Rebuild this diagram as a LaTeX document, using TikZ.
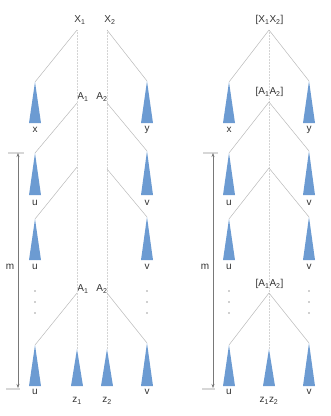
\documentclass[tikz,border=0pt]{standalone}
\usepackage{fontspec}
\setmainfont{Liberation Sans}
\usetikzlibrary{arrows.meta}
\definecolor{triblue}{RGB}{108,155,210}
\definecolor{linegray}{RGB}{185,185,185}
\definecolor{dotgray}{RGB}{212,212,212}
\definecolor{txt}{RGB}{50,50,50}
\definecolor{tickgray}{RGB}{215,215,215}
\definecolor{arrgray}{RGB}{120,120,120}
\tikzset{
  br/.style={draw=linegray, line width=0.5pt},
  vdot/.style={draw=dotgray, densely dotted, line width=0.5pt},
  lab/.style={font=\fontsize{10}{12}\selectfont, text=txt, inner sep=0pt},
  tick/.style={draw=tickgray, line width=1.6pt},
  marr/.style={draw=arrgray, line width=0.5pt, {Stealth[length=4pt,width=3pt]}-{Stealth[length=4pt,width=3pt]}},
  ell/.style={fill=txt, circle, inner sep=0pt, minimum size=1.3pt},
}
\newcommand\trimark[3]{% name, x, apex y
  \coordinate (#1) at (#2,#3);
}
\newcommand\trifill[2]{% apex coordinate name, base y
  \fill[triblue] (#1) -- ([xshift=-6pt]#1 |- 0,#2) -- ([xshift=6pt]#1 |- 0,#2) -- cycle;
}
\begin{document}
\begin{tikzpicture}[x=1pt,y=-1pt]
\useasboundingbox (0,0) rectangle (331,416);

% ---------------- left diagram ----------------
\node[lab] (X1) at (80,20) {X\textsubscript{1}};
\node[lab] (X2) at (110,20) {X\textsubscript{2}};
\node[lab] (A1) at (83,97) {A\textsubscript{1}};
\node[lab] (A2) at (102,97) {A\textsubscript{2}};
\node[lab] (A1b) at (83,289) {A\textsubscript{1}};
\node[lab] (A2b) at (102,289) {A\textsubscript{2}};

\coordinate (lb1) at (77,30);
\coordinate (rb1) at (107,30);
\coordinate (lb2) at (77,103);
\coordinate (rb2) at (107,103);
\coordinate (lb3) at (77,167);
\coordinate (rb3) at (107,169);
\coordinate (lb4) at (77,293);
\coordinate (rb4) at (107,293);

\trimark{tx}{35}{82}
\trimark{ty}{147}{81}
\trimark{tu1}{35}{153}
\trimark{tv1}{147}{151}
\trimark{tu2}{35}{219}
\trimark{tv2}{147}{217}
\trimark{tu3}{35}{345}
\trimark{tv3}{147}{343}
\trimark{tz1}{77}{349}
\trimark{tz2}{107}{349}

\draw[vdot] (lb1) -- (tz1);
\draw[vdot] (rb1) -- (tz2);

\draw[br] (lb1) -- (tx);
\draw[br] (rb1) -- (ty);
\draw[br] (lb2) -- (tu1);
\draw[br] (rb2) -- (tv1);
\draw[br] (lb3) -- (tu2);
\draw[br] (rb3) -- (tv2);
\draw[br] (lb4) -- (tu3);
\draw[br] (rb4) -- (tv3);

\trifill{tx}{123}
\trifill{ty}{123}
\trifill{tu1}{195}
\trifill{tv1}{195}
\trifill{tu2}{260}
\trifill{tv2}{260}
\trifill{tu3}{386}
\trifill{tv3}{386}
\trifill{tz1}{386}
\trifill{tz2}{386}

\node[lab] (lx) at (35,130) {x};
\node[lab] (ly) at (147,130) {y};
\node[lab] (lu1) at (35,203) {u};
\node[lab] (lv1) at (147,203) {v};
\node[lab] (lu2) at (35,267) {u};
\node[lab] (lv2) at (147,267) {v};
\node[lab] (lu3) at (35,392) {u};
\node[lab] (lv3) at (147,392) {v};
\node[lab] (lz1) at (77,401) {z\textsubscript{1}};
\node[lab] (lz2) at (107,401) {z\textsubscript{2}};

\foreach \yy [count=\i] in {291,302,313}{
  \node[ell] (ldl\i) at (35,\yy) {};
  \node[ell] (ldr\i) at (147,\yy) {};
}

\coordinate (mt) at (18,153);
\coordinate (mb) at (18,388);
\draw[tick] (8,153) -- (24,153);
\draw[tick] (6,389) -- (20,389);
\draw[marr] (mt) -- (mb);
\node[lab] (lm) at (10,267) {m};

% ---------------- right diagram ----------------
\node[lab] (RX) at (269.5,20) {[X\textsubscript{1}X\textsubscript{2}]};
\node[lab] (RA) at (269.5,92) {[A\textsubscript{1}A\textsubscript{2}]};
\node[lab] (RAb) at (269.5,284) {[A\textsubscript{1}A\textsubscript{2}]};

\coordinate (cb1) at (269,30);
\coordinate (cb2) at (269,102);
\coordinate (cb3) at (269,168);
\coordinate (cb4) at (269,293);

\trimark{sx}{229}{82}
\trimark{sy}{309}{81}
\trimark{su1}{229}{153}
\trimark{sv1}{309}{151}
\trimark{su2}{229}{219}
\trimark{sv2}{309}{217}
\trimark{su3}{229}{345}
\trimark{sv3}{309}{343}
\trimark{sz}{269}{349}

\draw[vdot] (cb1) -- (sz);

\draw[br] (cb1) -- (sx);
\draw[br] (cb1) -- (sy);
\draw[br] (cb2) -- (su1);
\draw[br] (cb2) -- (sv1);
\draw[br] (cb3) -- (su2);
\draw[br] (cb3) -- (sv2);
\draw[br] (cb4) -- (su3);
\draw[br] (cb4) -- (sv3);

\trifill{sx}{123}
\trifill{sy}{123}
\trifill{su1}{195}
\trifill{sv1}{195}
\trifill{su2}{260}
\trifill{sv2}{260}
\trifill{su3}{386}
\trifill{sv3}{386}
\trifill{sz}{386}

\node[lab] (rx) at (229,130) {x};
\node[lab] (ry) at (309,130) {y};
\node[lab] (ru1) at (229,203) {u};
\node[lab] (rv1) at (309,203) {v};
\node[lab] (ru2) at (229,267) {u};
\node[lab] (rv2) at (309,267) {v};
\node[lab] (ru3) at (229,392) {u};
\node[lab] (rv3) at (309,392) {v};
\node[lab] (rz) at (269,401) {z\textsubscript{1}z\textsubscript{2}};

\foreach \yy [count=\i] in {291,302,313}{
  \node[ell] (rdl\i) at (229,\yy) {};
  \node[ell] (rdr\i) at (309,\yy) {};
}

\coordinate (nt) at (213,153);
\coordinate (nb) at (213,388);
\draw[tick] (203,153) -- (218,153);
\draw[tick] (202,389) -- (215,389);
\draw[marr] (nt) -- (nb);
\node[lab] (rm) at (205,267) {m};
\end{tikzpicture}
\end{document}
